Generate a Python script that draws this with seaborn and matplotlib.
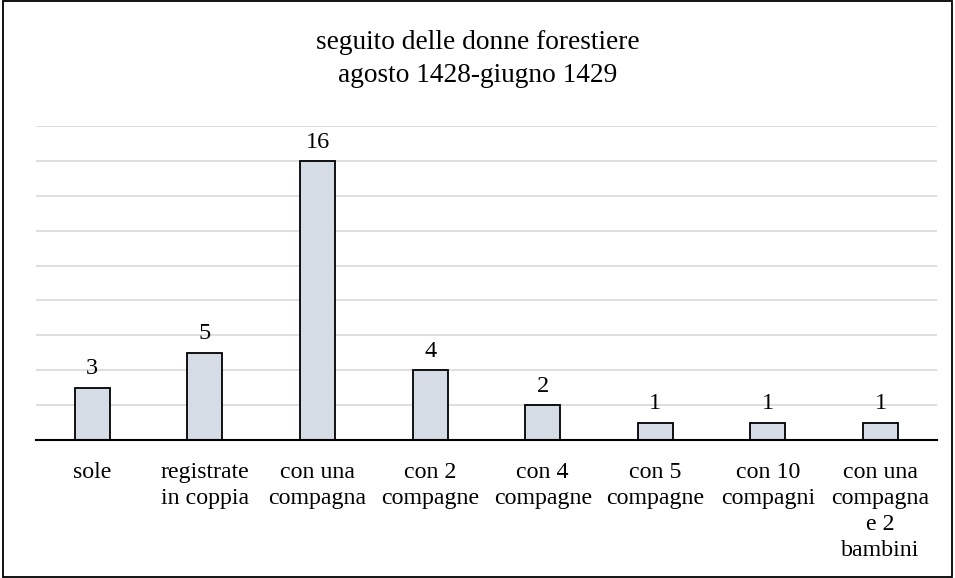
import matplotlib
matplotlib.use("Agg")
import matplotlib.pyplot as plt
import matplotlib.patches as mpatches
import seaborn as sns
import pandas as pd

categories = ["sole", "registrate\nin coppia", "con una\ncompagna", "con 2\ncompagne",
              "con 4\ncompagne", "con 5\ncompagne", "con 10\ncompagni",
              "con una\ncompagna\ne 2\nbambini"]
counts = [3, 5, 16, 4, 2, 1, 1, 1]
title = "seguito delle donne forestiere\nagosto 1428-giugno 1429"

sns.set_theme(style="white")
plt.rcParams["font.family"] = ["Liberation Serif", "DejaVu Serif"]

df = pd.DataFrame({"cat": categories, "n": counts})

fig = plt.figure(figsize=(9.55, 5.78), dpi=100)
ax = fig.add_axes([0.0377, 0.2388, 0.9433, 0.5432])

sns.barplot(data=df, x="cat", y="n", color="#D6DCE5", saturation=1,
            edgecolor="black", linewidth=1.3, width=0.31, ax=ax)

ax.set_ylim(0, 18)
ax.set_yticks(range(0, 19, 2))
ax.yaxis.grid(True, color="#D9D9D9", linewidth=1.2)
ax.set_axisbelow(True)
ax.set_xlabel("")
ax.set_ylabel("")
ax.tick_params(axis="y", left=False, labelleft=False)
ax.tick_params(axis="x", bottom=False, pad=10, colors="black")
for s in ["left", "right", "top"]:
    ax.spines[s].set_visible(False)
ax.spines["bottom"].set_color("black")
ax.spines["bottom"].set_linewidth(1.5)
for lbl in ax.get_xticklabels():
    lbl.set_fontsize(17.2)
    lbl.set_verticalalignment("top")
    lbl.set_linespacing(1.3)

for i, v in enumerate(counts):
    ax.annotate(str(v), (i, v), xytext=(0, 6), textcoords="offset points",
                ha="center", va="bottom", fontsize=17.5, color="black")

fig.text(0.5, 0.948, title, ha="center", va="top", fontsize=19.7,
         linespacing=1.4, color="black")

fig.patches.append(mpatches.Rectangle((0.003, 0.002), 0.994, 0.996,
                                      transform=fig.transFigure, fill=False,
                                      edgecolor="black", linewidth=1.3))

fig.savefig("out.png", dpi=100)
